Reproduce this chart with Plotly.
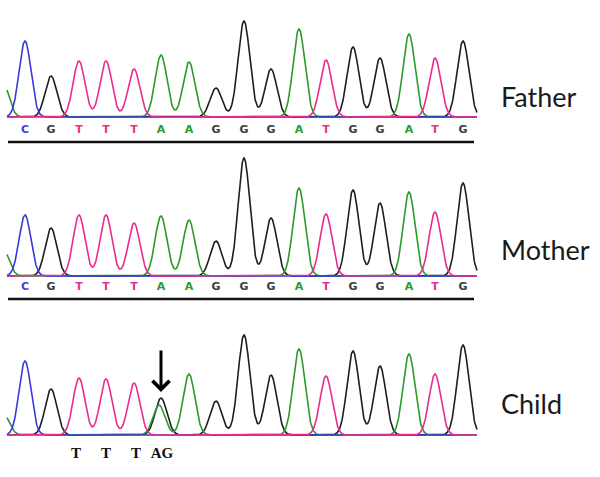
import numpy as np
import plotly.graph_objects as go

# ---------------- data ----------------
# base calls (position in scan units)
bases = ["C", "G", "T", "T", "T", "A", "A", "G", "G", "G", "A", "T", "G", "G", "A", "T", "G"]
base_pos = [25, 51, 79, 106, 134, 161, 189, 216, 244, 271, 299, 326, 353, 380, 409, 435, 463]

# peak heights (signal units) per sample, one per base call
father_heights = [76, 41, 56, 56, 48, 62, 55, 29, 96, 48, 88, 57, 70, 59, 83, 59, 76]
mother_heights = [61, 48, 61, 61, 53, 60, 56, 35, 118, 58, 88, 62, 86, 73, 84, 64, 93]
child_heights  = [74, 46, 57, 56, 52, 37, 61, 34, 100, 60, 86, 59, 84, 69, 81, 61, 90]
child_bases    = ["C", "G", "T", "T", "T", "G", "A", "G", "G", "G", "A", "T", "G", "G", "A", "T", "G"]
# extra heterozygous peak in child (A under the G at the mutated position)
child_extra_base = "A"
child_extra_pos = 159
child_extra_height = 30

# partial A peak cut at the left edge
lead_pos = 3
lead_heights = {"Father": 34, "Mother": 27, "Child": 22}

samples = ["Father", "Mother", "Child"]
child_calls = ["T", "T", "T", "AG"]
child_call_pos = [76, 106, 136, 162]

# ---------------- styling ----------------
colors = {"A": "#2a9a2a", "C": "#3838dc", "G": "#1e1e1e", "T": "#ec2a8e"}
letter_colors = {"A": "#2a9a2a", "C": "#4040dd", "G": "#3a3a3a", "T": "#e8338e"}
draw_order = ["G", "A", "C", "T"]
sigma = 5.9
x_scan = np.linspace(7, 477, 1400)

fig = go.Figure()

yaxes = ["y", "y2", "y3"]
panel_heights = {"Father": father_heights, "Mother": mother_heights, "Child": child_heights}


def gauss(p, h):
    return h * np.exp(-((x_scan - p) ** 2) / (2 * sigma ** 2))


for name, ya in zip(samples, yaxes):
    calls = child_bases if name == "Child" else bases
    heights = panel_heights[name]
    extras = [("A", lead_pos, lead_heights[name])]
    if name == "Child":
        extras.append((child_extra_base, child_extra_pos, child_extra_height))
    for ch in draw_order:
        s = np.zeros_like(x_scan)
        for b, p, h in zip(calls, base_pos, heights):
            if b == ch:
                s += gauss(p, h)
        for b, p, h in extras:
            if b == ch:
                s += gauss(p, h)
        fig.add_trace(go.Scatter(x=x_scan, y=s, mode="lines", yaxis=ya,
                                 line=dict(color=colors[ch], width=1.6),
                                 hoverinfo="skip", showlegend=False))

# base letters for father and mother
for ya, ylev in [("y", -13), ("y2", -11)]:
    fig.add_trace(go.Scatter(
        x=base_pos, y=[ylev] * len(bases), mode="text",
        text=["<b>%s</b>" % b for b in bases], yaxis=ya,
        textfont=dict(family="DejaVu Sans", size=11, color=[letter_colors[b] for b in bases]),
        textposition="middle center", hoverinfo="skip", showlegend=False))
    # underline
    fig.add_trace(go.Scatter(x=[8, 474], y=[ylev - 12, ylev - 12], mode="lines", yaxis=ya,
                             line=dict(color="#111111", width=2.5),
                             hoverinfo="skip", showlegend=False))

# child calls (serif)
fig.add_trace(go.Scatter(
    x=child_call_pos, y=[-19] * len(child_calls), mode="text",
    text=["<b>%s</b>" % c for c in child_calls], yaxis="y3",
    textfont=dict(family="Liberation Serif", size=15, color="#111111"),
    textposition="middle center", hoverinfo="skip", showlegend=False))

annotations = []
label_levels = {"Father": 21, "Mother": 26, "Child": 32}
for name, ya in zip(samples, yaxes):
    annotations.append(dict(x=499, y=label_levels[name], xref="x", yref=ya, text=name,
                            showarrow=False, xanchor="left", yanchor="middle",
                            font=dict(family="Lato", size=27, color="#1a1a1a")))
# mutation arrow
annotations.append(dict(x=161, y=43, xref="x", yref="y3", ax=161, ay=86,
                        axref="x", ayref="y3", text="", showarrow=True,
                        arrowhead=4, arrowsize=1.1, arrowwidth=3, arrowcolor="#000000"))

H = 477.0
fig.update_layout(
    width=600, height=477, margin=dict(l=0, r=0, t=0, b=0),
    paper_bgcolor="white", plot_bgcolor="white",
    xaxis=dict(range=[0, 600], visible=False, fixedrange=True),
    yaxis=dict(domain=[1 - 150 / H, 1], range=[-33, 117], visible=False),
    yaxis2=dict(domain=[1 - 310 / H, 1 - 150 / H], range=[-34, 126], visible=False),
    yaxis3=dict(domain=[0, 1 - 310 / H], range=[-42, 125], visible=False),
    annotations=annotations,
)

fig.write_html("out.html", config={"displayModeBar": False},
               post_script="document.body.style.margin='0';document.body.style.overflow='hidden';")
